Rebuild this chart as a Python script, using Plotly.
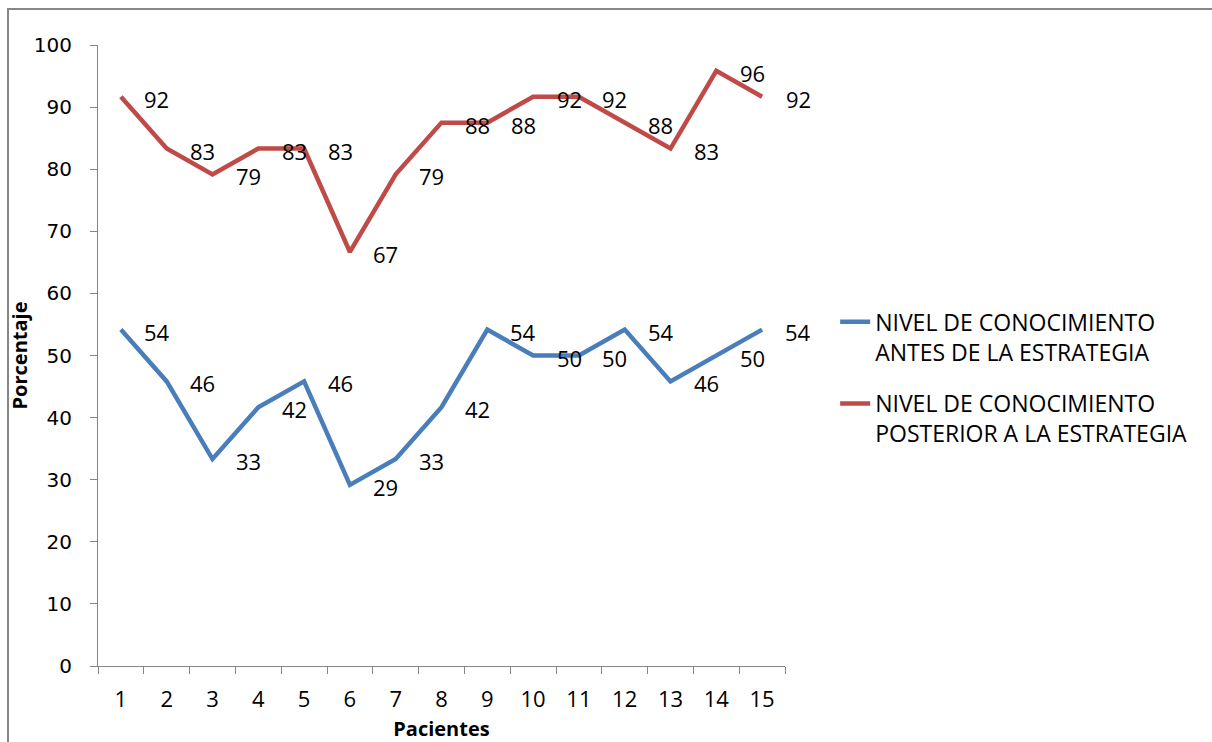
import plotly.graph_objects as go

pacientes = [str(i) for i in range(1, 16)]
antes = [54.17, 45.83, 33.33, 41.67, 45.83, 29.17, 33.33, 41.67, 54.17, 50.00, 50.00, 54.17, 45.83, 50.00, 54.17]
posterior = [91.67, 83.33, 79.17, 83.33, 83.33, 66.67, 79.17, 87.50, 87.50, 91.67, 91.67, 87.50, 83.33, 95.83, 91.67]
y_ticks = list(range(0, 101, 10))

name_antes = "NIVEL DE CONOCIMIENTO<br>ANTES DE LA ESTRATEGIA"
name_post = "NIVEL DE CONOCIMIENTO<br>POSTERIOR A LA ESTRATEGIA"

BLUE = "#4A7EBB"
RED = "#BE4B48"
GRAY = "#868686"
FONT = "Open Sans"

fig = go.Figure()
fig.add_trace(go.Scatter(x=pacientes, y=antes, mode="lines", name=name_antes,
                         legendgroup="a", line=dict(color=BLUE, width=4.5)))
fig.add_trace(go.Scatter(x=pacientes, y=posterior, mode="lines", name=name_post,
                         legendgroup="b", line=dict(color=RED, width=4.5)))

# data labels: placed at each category's index on the category axis
annotations = []
for series in (antes, posterior):
    for idx, v in enumerate(series):
        annotations.append(dict(x=idx, y=v, xref="x", yref="y", text=f"{v:.0f}",
                                showarrow=False, xanchor="center", yanchor="middle",
                                xshift=36, yshift=-2,
                                font=dict(family=FONT, size=22, color="black")))

fig.update_layout(
    width=1212, height=742,
    margin=dict(l=98, r=427, t=45, b=76),
    paper_bgcolor="white", plot_bgcolor="white",
    showlegend=True,
    legend=dict(x=1.073, xanchor="left", y=0.589, yanchor="top",
                font=dict(family=FONT, size=23, color="black"),
                valign="top", tracegroupgap=19, bgcolor="rgba(0,0,0,0)"),
    annotations=annotations,
    shapes=[dict(type="rect", xref="paper", yref="paper",
                 x0=-0.131, x1=1.8, y0=-0.3, y1=1.058,
                 line=dict(color=GRAY, width=2), fillcolor="rgba(0,0,0,0)")],
)

fig.update_xaxes(type="category", range=[-0.5, len(pacientes) - 0.5], automargin=False,
                 tickson="boundaries", ticks="outside", ticklen=7,
                 tickcolor=GRAY, showline=True, linecolor=GRAY, linewidth=1,
                 showgrid=False, zeroline=False, ticklabelstandoff=14,
                 tickfont=dict(family=FONT, size=22, color="black"),
                 title=dict(text="<b>Pacientes</b>", standoff=10,
                            font=dict(family=FONT, size=20, color="black")))
fig.update_yaxes(range=[0, 100], tickmode="array", tickvals=y_ticks, ticks="outside",
                 automargin=False,
                 ticklen=7, tickcolor=GRAY, showline=True, linecolor=GRAY, linewidth=1,
                 showgrid=False, zeroline=False, ticklabelstandoff=14,
                 tickfont=dict(family="DejaVu Sans", size=20, color="black"),
                 title=dict(text="<b>Porcentaje</b>", standoff=0,
                            font=dict(family=FONT, size=20, color="black")))

fig.write_html("out.html")
